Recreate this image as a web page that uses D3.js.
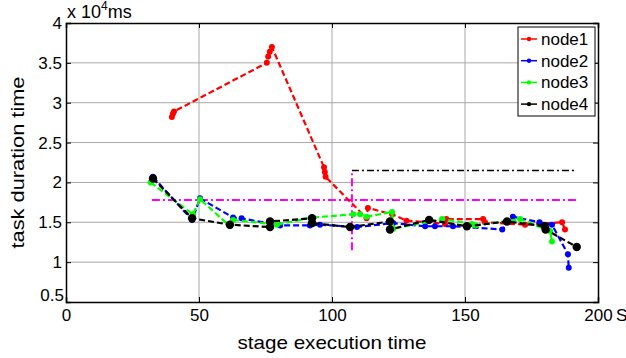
<!DOCTYPE html>
<html>
<head>
<meta charset="utf-8">
<script src="https://cdn.jsdelivr.net/npm/d3@7"></script>
<style>
  body { margin: 0; background: #fff; }
  text { font-family: "Liberation Sans", Arial, sans-serif; }
</style>
</head>
<body>
<script>
  var width = 626;
  var height = 358;
  var margin = {left: 66, top: 23, right: 28, bottom: 56};
  var plotW = width - margin.left - margin.right;
  var plotH = height - margin.top - margin.bottom;

  // data (x in s, y in 10^4 ms)
  var seriesNames = ['node1', 'node2', 'node3', 'node4'];
  var seriesColors = ['#ff0000', '#0000ff', '#00ff00', '#000000'];

  var node1 = [[39.8,2.82],[40.2,2.86],[40.6,2.89],[75.5,3.5],[76,3.58],[76.6,3.64],[77.4,3.7],
    [97,2.19],[97.3,2.13],[97.6,2.07],[113,1.55],[113.5,1.68],[122.6,1.6],[128,1.52],
    [142.5,1.48],[143,1.54],[156.8,1.54],[157.5,1.5],[172.6,1.47],[186.5,1.5],[187.6,1.41]];
  var node2 = [[32.7,2.07],[47.4,1.53],[50.4,1.8],[62.8,1.56],[66,1.55],[80.5,1.46],[91.7,1.46],
    [95.5,1.47],[109.4,1.44],[123,1.49],[135,1.45],[138.7,1.45],[145.5,1.45],[164,1.41],
    [168,1.57],[178,1.5],[182.7,1.47],[188.7,1.1],[189,0.93]];
  var node3 = [[31.8,2.0],[47.7,1.6],[50.4,1.79],[61.6,1.45],[62.8,1.53],[79.3,1.47],[92.5,1.56],
    [108,1.6],[110.5,1.6],[113,1.57],[122.6,1.63],[123,1.42],[141.4,1.54],[152.6,1.48],
    [154,1.46],[170.7,1.54],[182,1.39],[182.7,1.26]];
  var node4 = [[32.7,2.05],[47.4,1.55],[61.6,1.47],[76.7,1.44],[76.7,1.51],[92.5,1.55],[92.5,1.49],
    [106.8,1.44],[121.8,1.51],[121.8,1.41],[136.5,1.53],[150.7,1.45],[165.8,1.51],[180,1.45],
    [180.3,1.41],[192,1.19]];
  var seriesData = [node1, node2, node3, node4];

  // reference lines
  var magentaH = [[32.3,1.78],[192,1.78]];
  var magentaV = [[107.5,1.15],[107.5,2.15]];
  var blackH = [[107.5,2.15],[192,2.15]];

  var xTicks = [0, 50, 100, 150, 200];
  var yTicks = [0.5, 1, 1.5, 2, 2.5, 3, 3.5, 4];

  var svg = d3.select('body').append('svg')
    .attr('width', width)
    .attr('height', height);

  var xScale = d3.scaleLinear().domain([0, 200]).range([0, plotW]);
  var yScale = d3.scaleLinear().domain([0.5, 4]).range([plotH, 0]);

  var g = svg.append('g').attr('transform', `translate(${margin.left},${margin.top})`);

  // grid
  g.append('g').selectAll('line').data(xTicks.slice(1, -1)).enter().append('line')
    .attr('x1', d => xScale(d)).attr('x2', d => xScale(d))
    .attr('y1', 0).attr('y2', plotH)
    .attr('stroke', '#a8a8a8').attr('stroke-width', 1);
  g.append('g').selectAll('line').data(yTicks.slice(1, -1)).enter().append('line')
    .attr('y1', d => yScale(d)).attr('y2', d => yScale(d))
    .attr('x1', 0).attr('x2', plotW)
    .attr('stroke', '#a8a8a8').attr('stroke-width', 1);

  var line = d3.line().x(d => xScale(d[0])).y(d => yScale(d[1]));

  // reference lines
  g.append('path').datum(magentaH).attr('d', line)
    .attr('fill', 'none').attr('stroke', '#ff00ff').attr('stroke-width', 2)
    .attr('stroke-dasharray', '8,3,2,3');
  g.append('path').datum(magentaV).attr('d', line)
    .attr('fill', 'none').attr('stroke', '#ff00ff').attr('stroke-width', 2)
    .attr('stroke-dasharray', '8,3,2,3');
  g.append('path').datum(blackH).attr('d', line)
    .attr('fill', 'none').attr('stroke', '#000').attr('stroke-width', 1.5)
    .attr('stroke-dasharray', '7,3,2,3');

  // series
  seriesData.forEach(function(data, i){
    var s = g.append('g');
    s.append('path').datum(data).attr('d', line)
      .attr('fill', 'none')
      .attr('stroke', seriesColors[i])
      .attr('stroke-width', 2.2)
      .attr('stroke-dasharray', '6,3');
    s.selectAll('circle').data(data).enter().append('circle')
      .attr('cx', d => xScale(d[0]))
      .attr('cy', d => yScale(d[1]))
      .attr('r', i === 3 ? 4.2 : 3)
      .attr('fill', seriesColors[i]);
  });

  // axes box with inward ticks
  var xAxisB = d3.axisBottom(xScale).tickValues(xTicks).tickSize(-5).tickPadding(7).tickFormat(d3.format('d'));
  var xAxisT = d3.axisTop(xScale).tickValues(xTicks).tickSize(-5).tickFormat('');
  var yAxisL = d3.axisLeft(yScale).tickValues(yTicks).tickSize(-5).tickPadding(4).tickFormat(d => d);
  var yAxisR = d3.axisRight(yScale).tickValues(yTicks).tickSize(-5).tickFormat('');

  [
    [xAxisB, `translate(0,${plotH})`],
    [xAxisT, 'translate(0,0)'],
    [yAxisL, 'translate(0,0)'],
    [yAxisR, `translate(${plotW},0)`]
  ].forEach(function(a){
    var ax = g.append('g').attr('transform', a[1]).call(a[0]);
    ax.select('.domain').attr('stroke', '#000').attr('stroke-width', 1.5);
    ax.selectAll('.tick line').attr('stroke', '#000');
    ax.selectAll('.tick text').attr('font-size', 17).attr('fill', '#000')
      .attr('font-family', '"Liberation Sans", Arial, sans-serif');
  });

  // the bottom-left "0.5" sits a bit higher and tighter in the original
  g.selectAll('text').filter(function(){ return this.textContent === '0.5'; })
    .attr('dy', '-0.1em').attr('x', -2);

  // unit labels
  svg.append('text')
    .attr('x', margin.left + plotW + 18).attr('y', margin.top + plotH + 19)
    .attr('font-size', 17).text('S');

  var exp = svg.append('text')
    .attr('x', margin.left + 1).attr('y', margin.top - 5)
    .attr('font-size', 18);
  exp.append('tspan').text('x 10');
  exp.append('tspan').attr('font-size', 12).attr('dy', -8).text('4');
  exp.append('tspan').attr('dy', 8).text('ms');

  // axis titles
  svg.append('text')
    .attr('x', margin.left + plotW / 2).attr('y', 349)
    .attr('text-anchor', 'middle')
    .attr('font-family', '"Open Sans", sans-serif')
    .attr('font-size', 19)
    .attr('textLength', 189)
    .attr('lengthAdjust', 'spacingAndGlyphs')
    .text('stage execution time');
  svg.append('text')
    .attr('transform', `translate(24,${margin.top + plotH / 2}) rotate(-90)`)
    .attr('text-anchor', 'middle')
    .attr('font-family', '"Open Sans", sans-serif')
    .attr('font-size', 19)
    .attr('textLength', 172)
    .attr('lengthAdjust', 'spacingAndGlyphs')
    .text('task duration time');

  // legend
  var legend = svg.append('g').attr('transform', 'translate(518,27)');
  legend.append('rect')
    .attr('width', 77).attr('height', 89)
    .attr('fill', '#fff').attr('stroke', '#000').attr('stroke-width', 1);
  var rows = legend.selectAll('g.row').data(seriesNames).enter().append('g')
    .attr('transform', (d, i) => `translate(0,${12 + i * 21.7})`);
  rows.append('line')
    .attr('x1', 3).attr('x2', 19).attr('y1', 0).attr('y2', 0)
    .attr('stroke', (d, i) => seriesColors[i]).attr('stroke-width', 1.5);
  rows.append('circle')
    .attr('cx', 11).attr('cy', 0).attr('r', 2.2)
    .attr('fill', (d, i) => seriesColors[i]);
  rows.append('text')
    .attr('x', 23).attr('y', 6)
    .attr('font-size', 17)
    .text(d => d);
</script>
</body>
</html>
